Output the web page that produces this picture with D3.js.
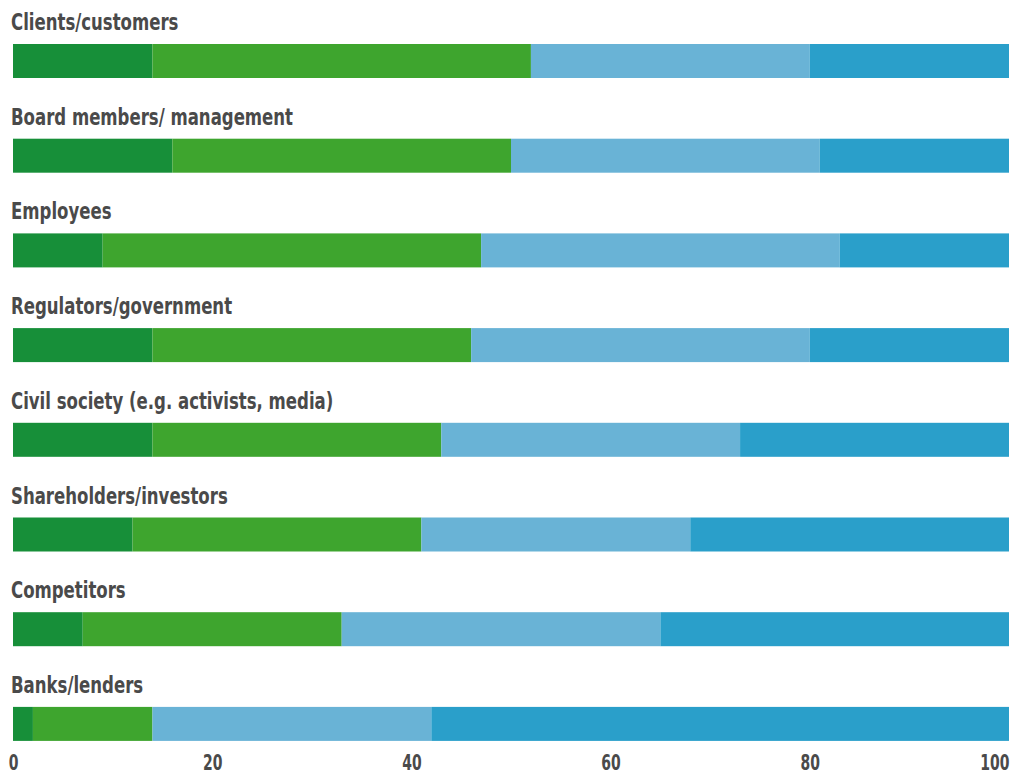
<!DOCTYPE html>
<html>
<head>
<meta charset="utf-8">
<script src="https://cdn.jsdelivr.net/npm/d3@7"></script>
<style>
  html, body { margin: 0; padding: 0; background: #fff; }
  svg text { font-family: "DejaVu Sans Condensed", "DejaVu Sans", sans-serif; font-weight: bold; fill: #4a4a4a; }
</style>
</head>
<body>
<svg id="chart" width="1014" height="776"></svg>
<script>
// Stakeholder groups, top to bottom
const categories = [
  "Clients/customers",
  "Board members/ management",
  "Employees",
  "Regulators/government",
  "Civil society (e.g. activists, media)",
  "Shareholders/investors",
  "Competitors",
  "Banks/lenders"
];
// Share of respondents (%) in each of the four response groups
const seriesA = [14, 16, 9, 14, 14, 12, 7, 2];
const seriesB = [38, 34, 38, 32, 29, 29, 26, 12];
const seriesC = [28, 31, 36, 34, 30, 27, 32, 28];
const seriesD = [20, 19, 17, 20, 27, 32, 35, 58];
const seriesKeys = ["a", "b", "c", "d"];
const colors = ["#178f39", "#3ea52e", "#69b3d6", "#2a9fca"];
const tickValues = [0, 20, 40, 60, 80, 100];

const rows = categories.map((c, i) => ({
  category: c, a: seriesA[i], b: seriesB[i], c: seriesC[i], d: seriesD[i]
}));

const svg = d3.select("#chart");
const x = d3.scaleLinear().domain([0, 100]).range([13, 1009]);
// each band starts at the top of its bar
const y = d3.scaleBand().domain(categories).range([44, 44 + 8 * 94.7]).paddingInner(0);
const barH = 34;
const narrow = 0.8; // horizontal squeeze for a condensed look

const stack = d3.stack().keys(seriesKeys)(rows);

svg.append("g").selectAll("g")
  .data(stack)
  .join("g")
  .attr("fill", (d, i) => colors[i])
  .selectAll("rect")
  .data(d => d)
  .join("rect")
  .attr("x", d => x(d[0]))
  .attr("width", d => x(d[1]) - x(d[0]))
  .attr("y", d => y(d.data.category))
  .attr("height", barH);

// Category labels above each bar
svg.append("g").selectAll("text")
  .data(categories)
  .join("text")
  .attr("transform", d => `translate(11,${y(d) - 14}) scale(${narrow},1)`)
  .attr("font-size", 23)
  .text(d => d);

// Axis labels
const axis = d3.axisBottom(x).tickValues(tickValues).tickSize(0).tickPadding(0);
const gx = svg.append("g").attr("transform", "translate(0,770)").call(axis);
gx.select(".domain").remove();
gx.selectAll("text")
  .attr("dy", 0)
  .attr("y", 0)
  .attr("font-size", 21)
  .attr("transform", "scale(0.74,1)")
  .attr("text-anchor", d => d === 100 ? "end" : "middle")
  .attr("fill", "#4a4a4a")
  .attr("font-family", null);
</script>
</body>
</html>
